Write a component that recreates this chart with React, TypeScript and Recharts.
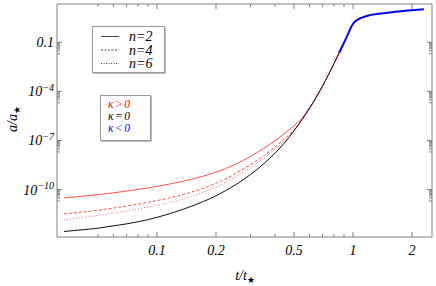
import React from 'react';
import { LineChart, Line, XAxis, YAxis } from 'recharts';

// t/t* sample points for the growing branch (kappa >= 0)
const tRise = [0.0335, 0.04, 0.05, 0.06, 0.08, 0.1, 0.12, 0.15, 0.2, 0.25, 0.3, 0.35, 0.4, 0.45, 0.5, 0.55, 0.6, 0.65, 0.7, 0.75, 0.8, 0.85, 0.9];
// log10(a/a*)
const logFlat = [-12.56, -12.48, -12.36, -12.22, -11.97, -11.7, -11.42, -11.02, -10.38, -9.73, -9.08, -8.43, -7.78, -7.11, -6.41, -5.72, -5.04, -4.35, -3.66, -2.98, -2.3, -1.64, -1.02];
const logClosedN2 = [-10.5, -10.43, -10.31, -10.2, -9.995, -9.81, -9.63, -9.37, -8.94, -8.47, -7.975, -7.49, -7.01, -6.55, -6.1, -5.64, -4.99, -4.35, -3.66, -2.98, -2.3, -1.64, -1.02];
const logClosedN4 = [-11.48, -11.4, -11.27, -11.13, -10.89, -10.675, -10.47, -10.155, -9.616, -9.047, -8.477, -7.932, -7.4, -6.885, -6.34, -5.7, -5.04, -4.35, -3.66, -2.98, -2.3, -1.64, -1.02];
const logClosedN6 = [-11.85, -11.74, -11.58, -11.435, -11.18, -10.96, -10.75, -10.42, -9.855, -9.25, -8.65, -8.085, -7.54, -7.01, -6.377, -5.71, -5.04, -4.35, -3.66, -2.98, -2.3, -1.64, -1.02];

// open branch (kappa < 0)
const tOpen = [0.85, 0.9, 0.95, 0.98, 1.0, 1.02, 1.05, 1.1, 1.2, 1.3, 1.5, 1.8, 2.0, 2.3];
const logOpen = [-1.64, -1.02, -0.41, -0.05, 0.12, 0.25, 0.37, 0.49, 0.64, 0.72, 0.81, 0.92, 0.96, 1.02];

// axis ticks
const xTicks = [0.05, 0.06, 0.07, 0.08, 0.09, 0.1, 0.2, 0.3, 0.4, 0.5, 0.6, 0.7, 0.8, 0.9, 1, 2];
const xLabels = [0.1, 0.2, 0.5, 1, 2];
const yMajor = [1e-10, 1e-7, 1e-4, 0.1];
const yMinorMult = [2, 3, 4, 5, 6, 7, 8, 9];

const xDomain = [0.0309, 2.53];
const yDomain = [1.26e-13, 22];

const frame = '#808080';
const serif = 'Liberation Serif, Times New Roman, Times, DejaVu Serif, serif';

const toSeries = (ts: number[], logs: number[]) =>
  ts.map((t, i) => ({ t, a: Math.pow(10, logs[i]) }));

const flat = toSeries(tRise, logFlat);
const closed2 = toSeries(tRise, logClosedN2);
const closed4 = toSeries(tRise, logClosedN4);
const closed6 = toSeries(tRise, logClosedN6);
const open = toSeries(tOpen, logOpen);

const yTicks: number[] = [];
yMajor.forEach((m) => {
  yMinorMult.forEach((k) => yTicks.push((k * m) / 10));
  yTicks.push(m);
});

const isMajorY = (v: number) => yMajor.some((m) => Math.abs(v / m - 1) < 1e-6);
const isLabelX = (v: number) => xLabels.some((m) => Math.abs(v / m - 1) < 1e-6);

const txt = { fontFamily: serif, fontStyle: 'italic' as const };

function YTickLabel({ v, x, y }: { v: number; x: number; y: number }) {
  if (v === 0.1) {
    return (
      <text x={x - 3} y={y + 5} textAnchor="end" style={txt} fontSize={14} fill="#000">
        0.1
      </text>
    );
  }
  const exp = Math.round(Math.log10(v));
  return (
    <text x={x - 3} y={y + 5} textAnchor="end" style={txt} fontSize={14} fill="#000">
      <tspan>10</tspan>
      <tspan dy={-5.5} fontSize={10}>{'\u2212' + Math.abs(exp)}</tspan>
    </text>
  );
}

const renderYTick = (side: 'left' | 'right') => (props: any) => {
  const { x, y, payload } = props;
  const v = payload.value as number;
  const major = isMajorY(v);
  const len = major ? 5 : 3;
  const dir = side === 'left' ? 1 : -1;
  return (
    <g>
      <line x1={x} x2={x + dir * len} y1={y} y2={y} stroke={frame} strokeWidth={1} />
      {side === 'left' && major && <YTickLabel v={v} x={x} y={y} />}
    </g>
  );
};

const renderXTick = (side: 'bottom' | 'top') => (props: any) => {
  const { x, y, payload } = props;
  const v = payload.value as number;
  const labeled = isLabelX(v);
  const len = labeled ? 5 : 3;
  const dir = side === 'bottom' ? -1 : 1;
  return (
    <g>
      <line x1={x} x2={x} y1={y} y2={y + dir * len} stroke={frame} strokeWidth={1} />
      {side === 'bottom' && labeled && (
        <text x={x} y={y + 18} textAnchor="middle" style={txt} fontSize={14} fill="#000">
          {String(v)}
        </text>
      )}
    </g>
  );
};

export default function App() {
  return (
    <div style={{ position: 'absolute', left: 0, top: 0, width: 436, height: 286, background: '#fff' }}>
      <LineChart width={436} height={286} margin={{ top: 3, right: 3, bottom: 0, left: 7 }}>
        <XAxis
          xAxisId="b"
          dataKey="t"
          type="number"
          scale="log"
          domain={xDomain}
          allowDataOverflow
          ticks={xTicks}
          interval={0}
          tick={renderXTick('bottom')}
          tickSize={0}
          tickMargin={0}
          tickLine={false}
          axisLine={{ stroke: frame }}
          height={49}
        />
        <XAxis
          xAxisId="t"
          orientation="top"
          dataKey="t"
          type="number"
          scale="log"
          domain={xDomain}
          allowDataOverflow
          ticks={xTicks}
          interval={0}
          tick={renderXTick('top')}
          tickSize={0}
          tickMargin={0}
          tickLine={false}
          axisLine={{ stroke: frame }}
          height={1}
        />
        <YAxis
          yAxisId="l"
          dataKey="a"
          type="number"
          scale="log"
          domain={yDomain}
          allowDataOverflow
          ticks={yTicks}
          interval={0}
          tick={renderYTick('left')}
          tickSize={0}
          tickMargin={0}
          tickLine={false}
          axisLine={{ stroke: frame }}
          width={50}
        />
        <YAxis
          yAxisId="r"
          orientation="right"
          dataKey="a"
          type="number"
          scale="log"
          domain={yDomain}
          allowDataOverflow
          ticks={yTicks}
          interval={0}
          tick={renderYTick('right')}
          tickSize={0}
          tickMargin={0}
          tickLine={false}
          axisLine={{ stroke: frame }}
          width={1}
        />

        {/* kappa > 0, n = 2, 4, 6 */}
        <Line xAxisId="b" yAxisId="l" data={closed2} dataKey="a" type="monotone" stroke="#ff4d4d" strokeWidth={1} dot={false} isAnimationActive={false} />
        <Line xAxisId="b" yAxisId="l" data={closed4} dataKey="a" type="monotone" stroke="#ff4d4d" strokeWidth={1} strokeDasharray="3 2" dot={false} isAnimationActive={false} />
        <Line xAxisId="b" yAxisId="l" data={closed6} dataKey="a" type="monotone" stroke="#ff6666" strokeWidth={1} strokeDasharray="1 2" dot={false} isAnimationActive={false} />
        {/* kappa = 0 */}
        <Line xAxisId="b" yAxisId="l" data={flat} dataKey="a" type="monotone" stroke="#111" strokeWidth={1} dot={false} isAnimationActive={false} />
        {/* kappa < 0 */}
        <Line xAxisId="b" yAxisId="l" data={open} dataKey="a" type="monotone" stroke="#0000ff" strokeWidth={2} dot={false} isAnimationActive={false} />
      </LineChart>

      <svg width={436} height={286} style={{ position: 'absolute', left: 0, top: 0, pointerEvents: 'none' }}>
        {/* axis titles */}
        <text x={245} y={280} textAnchor="middle" style={txt} fontSize={14} fill="#000">
          t/t<tspan dy={3} fontSize={9} fontStyle="normal">{'\u2605'}</tspan>
        </text>
        <text transform="translate(17,119) rotate(-90)" textAnchor="middle" style={txt} fontSize={14} fill="#000">
          a/a<tspan dy={3} fontSize={9} fontStyle="normal">{'\u2605'}</tspan>
        </text>

        {/* line style legend */}
        <rect x={93.5} y={27.5} width={72} height={46} fill="#777" />
        <rect x={92.5} y={26.5} width={72} height={46} fill="#fff" stroke="#999" />
        <line x1={101} x2={119} y1={36.5} y2={36.5} stroke="#444" strokeWidth={1} />
        <line x1={101} x2={119} y1={50} y2={50} stroke="#444" strokeWidth={1} strokeDasharray="2 1.5" />
        <line x1={101} x2={119} y1={63.5} y2={63.5} stroke="#444" strokeWidth={1} strokeDasharray="1 1.5" />
        <text x={129} y={41} style={txt} fontSize={14} fill="#000">n=2</text>
        <text x={129} y={54.5} style={txt} fontSize={14} fill="#000">n=4</text>
        <text x={129} y={68} style={txt} fontSize={14} fill="#000">n=6</text>

        {/* curvature legend */}
        <rect x={101.5} y={96.5} width={50} height={45} fill="#777" />
        <rect x={100.5} y={95.5} width={50} height={45} fill="#fff" stroke="#999" />
        <text x={108} y={107.5} style={txt} fontSize={11.5} letterSpacing={1.5} fill="#ff0000">κ&gt;0</text>
        <text x={108} y={119.5} style={txt} fontSize={11.5} letterSpacing={1.5} fill="#000">κ=0</text>
        <text x={108} y={131.5} style={txt} fontSize={11.5} letterSpacing={1.5} fill="#0000ff">κ&lt;0</text>
      </svg>
    </div>
  );
}
